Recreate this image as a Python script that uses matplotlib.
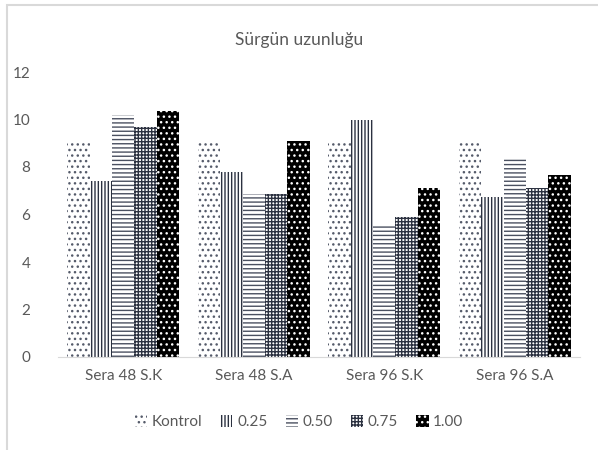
import numpy as np
import matplotlib.pyplot as plt
from matplotlib.patches import Rectangle

# Gruplar ve dozlar
gruplar = ['Sera 48 S.K', 'Sera 48 S.A', 'Sera 96 S.K', 'Sera 96 S.A']
dozlar = ['Kontrol', '0.25', '0.50', '0.75', '1.00']

kontrol = [9.0, 9.0, 9.0, 9.0]
doz_025 = [7.4, 7.77, 9.96, 6.75]
doz_050 = [10.2, 6.85, 5.55, 8.44]
doz_075 = [9.7, 6.85, 5.9, 7.13]
doz_100 = [10.35, 9.1, 7.13, 7.68]

degerler = [kontrol, doz_025, doz_050, doz_075, doz_100]

plt.rcParams['font.family'] = ['Lato', 'DejaVu Sans']
plt.rcParams['hatch.linewidth'] = 1.0
gri = '#595959'

fig = plt.figure(figsize=(5.98, 4.5), dpi=100)
ax = fig.add_axes([58 / 598, 1 - 357 / 450, 522 / 598, 285 / 450])

# dolgu desenleri: (zemin, desen rengi, desen)
desenler = [
    ('white', '#555b6a', '...'),
    ('white', '#2b3140', '|||||'),
    ('white', '#4a5060', '----'),
    ('white', '#2b3140', '+++++'),
    ('black', 'white', '...'),
]

x = np.arange(len(gruplar))
genislik = 0.172
for i, (ad, deger) in enumerate(zip(dozlar, degerler)):
    zemin, renk, desen = desenler[i]
    ax.bar(x + (i - 2) * genislik, deger, genislik, color=zemin,
           edgecolor=renk, hatch=desen, linewidth=0, label=ad)

ax.set_xlim(-0.5, 3.5)
ax.set_ylim(0, 12)
ax.set_yticks(range(0, 13, 2))
ax.set_xticks(x)
ax.set_xticklabels(gruplar)
ax.tick_params(axis='both', length=0, colors=gri, labelsize=11)
ax.tick_params(axis='x', pad=9)
ax.tick_params(axis='y', pad=20)
for k in ['top', 'right', 'left']:
    ax.spines[k].set_visible(False)
ax.spines['bottom'].set_color('#d9d9d9')

fig.text(0.5, 1 - 40 / 450, 'Sürgün uzunluğu', ha='center', va='center',
         fontsize=12.5, color=gri)

fig.legend(loc='center', bbox_to_anchor=(0.5, 1 - 422 / 450), ncol=5,
           frameon=False, fontsize=11, labelcolor=gri, handlelength=0.8,
           handleheight=0.8, handletextpad=0.3, columnspacing=1.2)

# grafik alanı çerçevesi
fig.patches.append(Rectangle((7 / 598, -0.1), 1.2, 1.1 - 5 / 450,
                             transform=fig.transFigure, fill=False,
                             edgecolor='#d9d9d9', linewidth=1.5))

fig.savefig('out.png', dpi=100)
